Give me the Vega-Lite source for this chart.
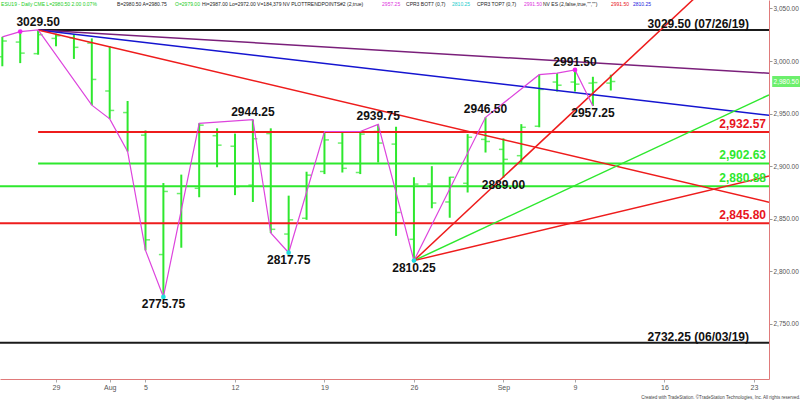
{
  "$schema": "https://vega.github.io/schema/vega-lite/v6.json",
  "width": 769,
  "height": 379,
  "autosize": {"type": "none"},
  "padding": {"left": 0, "top": 0, "right": 31, "bottom": 23},
  "background": "white",
  "config": {"view": {"stroke": null}, "font": "Liberation Sans"},
  "title": {"text": "Created with TradeStation. ©TradeStation Technologies, Inc. All rights reserved.", "orient": "bottom", "anchor": "end", "frame": "bounds", "fontSize": 4.5, "fontWeight": "normal", "color": "#444", "offset": 5},
  "datasets": {
    "bars": [
      {"date": "2019-07-24", "day": -3, "open": 3004, "high": 3023, "low": 2995, "close": 3019},
      {"date": "2019-07-25", "day": -2, "open": 3018, "high": 3028, "low": 2998, "close": 3007.5},
      {"date": "2019-07-26", "day": -1, "open": 3007, "high": 3029.5, "low": 3006, "close": 3025},
      {"date": "2019-07-29", "day": 0, "open": 3021.5, "high": 3026, "low": 3014, "close": 3024},
      {"date": "2019-07-30", "day": 1, "open": 3022, "high": 3025.5, "low": 3002, "close": 3013},
      {"date": "2019-07-31", "day": 2, "open": 3017, "high": 3021.5, "low": 2958, "close": 2982.5},
      {"date": "2019-08-01", "day": 3, "open": 2971.5, "high": 3014, "low": 2945, "close": 2953},
      {"date": "2019-08-02", "day": 4, "open": 2951, "high": 2962, "low": 2914, "close": 2932.5},
      {"date": "2019-08-05", "day": 5, "open": 2929.5, "high": 2934, "low": 2820, "close": 2830},
      {"date": "2019-08-06", "day": 6, "open": 2816, "high": 2884, "low": 2775.75, "close": 2876},
      {"date": "2019-08-07", "day": 7, "open": 2874, "high": 2892, "low": 2822.5, "close": 2881},
      {"date": "2019-08-08", "day": 8, "open": 2879, "high": 2940.75, "low": 2870.5, "close": 2939},
      {"date": "2019-08-09", "day": 9, "open": 2929, "high": 2936, "low": 2899, "close": 2920},
      {"date": "2019-08-12", "day": 10, "open": 2919, "high": 2931, "low": 2872.5, "close": 2880.5},
      {"date": "2019-08-13", "day": 11, "open": 2882, "high": 2944.25, "low": 2866, "close": 2926},
      {"date": "2019-08-14", "day": 12, "open": 2931, "high": 2936, "low": 2836.5, "close": 2840},
      {"date": "2019-08-15", "day": 13, "open": 2835.5, "high": 2872, "low": 2817.75, "close": 2849},
      {"date": "2019-08-16", "day": 14, "open": 2850.5, "high": 2894.75, "low": 2849, "close": 2891.5},
      {"date": "2019-08-19", "day": 15, "open": 2895, "high": 2933, "low": 2892.5, "close": 2925},
      {"date": "2019-08-20", "day": 16, "open": 2922, "high": 2933, "low": 2894, "close": 2898},
      {"date": "2019-08-21", "day": 17, "open": 2894, "high": 2933, "low": 2892.5, "close": 2930.5},
      {"date": "2019-08-22", "day": 18, "open": 2933, "high": 2939.75, "low": 2903.5, "close": 2922},
      {"date": "2019-08-23", "day": 19, "open": 2921, "high": 2937.5, "low": 2833.75, "close": 2856},
      {"date": "2019-08-26", "day": 20, "open": 2830.5, "high": 2889.5, "low": 2810.25, "close": 2883},
      {"date": "2019-08-27", "day": 21, "open": 2883, "high": 2900, "low": 2860, "close": 2865},
      {"date": "2019-08-28", "day": 22, "open": 2866, "high": 2890, "low": 2851, "close": 2889.5},
      {"date": "2019-08-29", "day": 23, "open": 2883.75, "high": 2930.5, "low": 2875, "close": 2927.5},
      {"date": "2019-08-30", "day": 24, "open": 2925.5, "high": 2946.5, "low": 2913, "close": 2923.5},
      {"date": "2019-09-03", "day": 25, "open": 2916, "high": 2926.5, "low": 2889, "close": 2906.5},
      {"date": "2019-09-04", "day": 26, "open": 2910, "high": 2940, "low": 2902, "close": 2937},
      {"date": "2019-09-05", "day": 27, "open": 2938, "high": 2987, "low": 2937, "close": 2973},
      {"date": "2019-09-06", "day": 28, "open": 2980, "high": 2988.5, "low": 2971, "close": 2977},
      {"date": "2019-09-09", "day": 29, "open": 2980, "high": 2991.5, "low": 2971, "close": 2978},
      {"date": "2019-09-10", "day": 30, "open": 2979, "high": 2985, "low": 2957.25, "close": 2979.5},
      {"date": "2019-09-11", "day": 31, "open": 2979, "high": 2987, "low": 2972, "close": 2980.5}
    ],
    "zigzag": [
      {"day": -3, "price": 3023}, {"day": -2, "price": 3028}, {"day": -1, "price": 3029.5},
      {"day": 2, "price": 2958}, {"day": 3, "price": 2945}, {"day": 4, "price": 2914},
      {"day": 5, "price": 2820}, {"day": 6, "price": 2775.75}, {"day": 8, "price": 2940.75},
      {"day": 11, "price": 2944.25}, {"day": 12, "price": 2836.5}, {"day": 13, "price": 2817.75},
      {"day": 15, "price": 2933}, {"day": 17, "price": 2933}, {"day": 18, "price": 2939.75},
      {"day": 20, "price": 2810.25}, {"day": 24, "price": 2946.5}, {"day": 27, "price": 2987},
      {"day": 28, "price": 2988.5}, {"day": 29, "price": 2991.5}, {"day": 30, "price": 2957.25}
    ],
    "markers": [
      {"day": -2, "price": 3028, "type": "top"},
      {"day": 29, "price": 2991.5, "type": "top"},
      {"day": 6, "price": 2775.75, "type": "bottom"},
      {"day": 13, "price": 2817.75, "type": "bottom"},
      {"day": 20, "price": 2810.25, "type": "bottom"}
    ],
    "pivots": [
      {"day": -1, "price": 3029.5, "label": "3029.50", "side": "high"},
      {"day": 6, "price": 2775.75, "label": "2775.75", "side": "low"},
      {"day": 11, "price": 2944.25, "label": "2944.25", "side": "high"},
      {"day": 13, "price": 2817.75, "label": "2817.75", "side": "low"},
      {"day": 18, "price": 2939.75, "label": "2939.75", "side": "high"},
      {"day": 20, "price": 2810.25, "label": "2810.25", "side": "low"},
      {"day": 24, "price": 2946.5, "label": "2946.50", "side": "high"},
      {"day": 25, "price": 2889, "label": "2889.00", "side": "low"},
      {"day": 29, "price": 2991.5, "label": "2991.50", "side": "high"},
      {"day": 30, "price": 2957.25, "label": "2957.25", "side": "low"}
    ],
    "levels": [
      {"kind": "swing", "price": 3029.5, "from": -1, "to": 39.84, "label": "3029.50 (07/26/19)"},
      {"kind": "swing", "price": 2732.25, "from": -4, "to": 39.84, "label": "2732.25 (06/03/19)"},
      {"kind": "fib", "price": 2932.57, "from": -1, "to": 39.84, "label": "2,932.57"},
      {"kind": "half", "price": 2902.63, "from": -1, "to": 39.84, "label": "2,902.63"},
      {"kind": "half", "price": 2880.88, "from": -4, "to": 39.84, "label": "2,880.88"},
      {"kind": "fib", "price": 2845.8, "from": -4, "to": 39.84, "label": "2,845.80"}
    ],
    "trends": [
      {"angle": "top 1x4", "from": -1, "start": 3029.5, "to": 39.84, "end": 2988.4},
      {"angle": "top 1x2", "from": -1, "start": 3029.5, "to": 39.84, "end": 2948.4},
      {"angle": "top 1x1", "from": -1, "start": 3029.5, "to": 39.84, "end": 2865.8},
      {"angle": "bottom 1x1", "from": 20, "start": 2810.25, "to": 39.84, "end": 3125.9},
      {"angle": "bottom 2x1", "from": 20, "start": 2810.25, "to": 39.84, "end": 2967.8},
      {"angle": "bottom 4x1", "from": 20, "start": 2810.25, "to": 39.84, "end": 2890.7}
    ],
    "last": [{"price": 2980.5}],
    "header": [
      {"part": "quote", "text": "ESU19 - Daily CME  L=2980.50  2.00  0.07%"},
      {"part": "bidask", "text": "B=2980.50 A=2980.75"},
      {"part": "open", "text": "O=2979.00"},
      {"part": "stats", "text": "Hi=2987.00 Lo=2972.00 V=184,379 NV PLOTTRENDPOINTS#2 (2,true)"},
      {"part": "ptp", "text": "2957.25"},
      {"part": "bot", "text": "CPR3 BOT7 (0,7)"},
      {"part": "botv", "text": "2810.25"},
      {"part": "top", "text": "CPR3 TOP7 (0,7)"},
      {"part": "topv", "text": "2991.50"},
      {"part": "nv", "text": "NV ES (2,false,true,\"\",\"\")"},
      {"part": "nvhi", "text": "2991.50"},
      {"part": "nvlo", "text": "2810.25"}
    ]
  },
  "encoding": {
    "x": {"type": "quantitative", "scale": {"domain": [-3.13, 39.84], "nice": false, "zero": false},
      "axis": {"values": [0, 3, 5, 10, 15, 20, 25, 29, 34, 39], "title": null, "grid": false,
        "labelExpr": "datum.value == 0 ? '29' : datum.value == 3 ? 'Aug' : datum.value == 5 ? '5' : datum.value == 10 ? '12' : datum.value == 15 ? '19' : datum.value == 20 ? '26' : datum.value == 25 ? 'Sep' : datum.value == 29 ? '9' : datum.value == 34 ? '16' : '23'",
        "labelFontSize": 7, "labelColor": "#555", "tickSize": 3, "tickColor": "#aaa", "domainColor": "#e07a7a", "labelPadding": 1}},
    "y": {"type": "quantitative", "scale": {"domain": [2697.7, 3058], "nice": false, "zero": false},
      "axis": {"orient": "right", "values": [2750, 2800, 2850, 2900, 2950, 3000, 3050], "format": ",.2f", "title": null, "grid": false,
        "labelFontSize": 6.5, "labelColor": "#555", "tickSize": 3, "tickColor": "#999", "domainColor": "#e07a7a", "labelPadding": 1}}
  },
  "resolve": {"scale": {"color": "independent"}},
  "layer": [
    {
      "data": {"name": "bars"},
      "mark": {"type": "rule", "color": "#2ee82e", "strokeWidth": 2},
      "encoding": {"x": {"field": "day"}, "y": {"field": "low"}, "y2": {"field": "high"}}
    },
    {
      "data": {"name": "bars"},
      "mark": {"type": "tick", "orient": "horizontal", "color": "#2ee82e", "size": 4, "thickness": 1.5, "xOffset": -2.5},
      "encoding": {"x": {"field": "day"}, "y": {"field": "open"}}
    },
    {
      "data": {"name": "bars"},
      "mark": {"type": "tick", "orient": "horizontal", "color": "#2ee82e", "size": 4, "thickness": 1.5, "xOffset": 2.5},
      "encoding": {"x": {"field": "day"}, "y": {"field": "close"}}
    },
    {
      "data": {"name": "levels"},
      "mark": {"type": "rule", "strokeWidth": 2, "clip": true},
      "encoding": {
        "x": {"field": "from"}, "x2": {"field": "to"}, "y": {"field": "price"},
        "color": {"field": "kind", "type": "nominal", "scale": {"domain": ["swing", "fib", "half"], "range": ["#1a1a1a", "#ee1c1c", "#2ee82e"]}, "legend": null}
      }
    },
    {
      "data": {"name": "trends"},
      "mark": {"type": "rule", "strokeWidth": 1.5, "clip": true},
      "encoding": {
        "x": {"field": "from"}, "x2": {"field": "to"}, "y": {"field": "start"}, "y2": {"field": "end"},
        "color": {"field": "angle", "type": "nominal", "scale": {"domain": ["top 1x4", "top 1x2", "top 1x1", "bottom 1x1", "bottom 2x1", "bottom 4x1"], "range": ["#7a1f7a", "#1515d0", "#ee1c1c", "#ee1c1c", "#2ee82e", "#ee1c1c"]}, "legend": null}
      }
    },
    {
      "data": {"name": "zigzag"},
      "mark": {"type": "line", "color": "#dd44dd", "strokeWidth": 1.2},
      "encoding": {"x": {"field": "day"}, "y": {"field": "price"}}
    },
    {
      "data": {"name": "markers"},
      "mark": {"type": "point", "filled": true, "size": 22, "opacity": 1},
      "encoding": {
        "x": {"field": "day"}, "y": {"field": "price"},
        "color": {"field": "type", "type": "nominal", "scale": {"domain": ["top", "bottom"], "range": ["#ee22ee", "#22dddd"]}, "legend": null}
      }
    },
    {
      "data": {"name": "pivots"},
      "transform": [{"filter": "datum.side == 'high'"}],
      "mark": {"type": "text", "fontSize": 12, "fontWeight": "bold", "color": "#111", "baseline": "middle", "dy": -8},
      "encoding": {"x": {"field": "day"}, "y": {"field": "price"}, "text": {"field": "label"}}
    },
    {
      "data": {"name": "pivots"},
      "transform": [{"filter": "datum.side == 'low'"}],
      "mark": {"type": "text", "fontSize": 12, "fontWeight": "bold", "color": "#111", "baseline": "middle", "dy": 7},
      "encoding": {"x": {"field": "day"}, "y": {"field": "price"}, "text": {"field": "label"}}
    },
    {
      "data": {"name": "levels"},
      "transform": [{"filter": "datum.kind == 'swing'"}],
      "mark": {"type": "text", "fontSize": 12, "fontWeight": "bold", "color": "#111", "align": "right", "baseline": "middle", "dx": -20, "dy": -6},
      "encoding": {"x": {"field": "to"}, "y": {"field": "price"}, "text": {"field": "label"}}
    },
    {
      "data": {"name": "levels"},
      "transform": [{"filter": "datum.kind != 'swing'"}],
      "mark": {"type": "text", "fontSize": 12, "fontWeight": "bold", "align": "right", "baseline": "middle", "dx": -3, "dy": -8},
      "encoding": {
        "x": {"field": "to"}, "y": {"field": "price"}, "text": {"field": "label"},
        "color": {"field": "kind", "type": "nominal", "scale": {"domain": ["fib", "half"], "range": ["#e8141c", "#2ee82e"]}, "legend": null}
      }
    },
    {
      "data": {"name": "last"},
      "mark": {"type": "tick", "orient": "horizontal", "size": 28, "thickness": 11, "color": "#2ee82e"},
      "encoding": {"x": {"datum": 40.8}, "y": {"field": "price"}}
    },
    {
      "data": {"name": "last"},
      "mark": {"type": "text", "fontSize": 6.5, "color": "white", "baseline": "middle"},
      "encoding": {"x": {"datum": 40.8}, "y": {"field": "price"}, "text": {"field": "price", "format": ",.2f"}}
    },
    {"data": {"name": "header"}, "transform": [{"filter": "datum.part == 'quote'"}], "mark": {"type": "text", "align": "left", "baseline": "middle", "fontSize": 5, "color": "#22cc22"}, "encoding": {"x": {"datum": -3.07}, "y": {"datum": 3054}, "text": {"field": "text"}}},
    {"data": {"name": "header"}, "transform": [{"filter": "datum.part == 'bidask'"}], "mark": {"type": "text", "align": "left", "baseline": "middle", "fontSize": 5, "color": "#222"}, "encoding": {"x": {"datum": 3.41}, "y": {"datum": 3054}, "text": {"field": "text"}}},
    {"data": {"name": "header"}, "transform": [{"filter": "datum.part == 'open'"}], "mark": {"type": "text", "align": "left", "baseline": "middle", "fontSize": 5, "color": "#22cc22"}, "encoding": {"x": {"datum": 6.65}, "y": {"datum": 3054}, "text": {"field": "text"}}},
    {"data": {"name": "header"}, "transform": [{"filter": "datum.part == 'stats'"}], "mark": {"type": "text", "align": "left", "baseline": "middle", "fontSize": 5, "color": "#222"}, "encoding": {"x": {"datum": 8.16}, "y": {"datum": 3054}, "text": {"field": "text"}}},
    {"data": {"name": "header"}, "transform": [{"filter": "datum.part == 'ptp'"}], "mark": {"type": "text", "align": "left", "baseline": "middle", "fontSize": 5, "color": "#dd33dd"}, "encoding": {"x": {"datum": 18.22}, "y": {"datum": 3054}, "text": {"field": "text"}}},
    {"data": {"name": "header"}, "transform": [{"filter": "datum.part == 'bot'"}], "mark": {"type": "text", "align": "left", "baseline": "middle", "fontSize": 5, "color": "#222"}, "encoding": {"x": {"datum": 19.56}, "y": {"datum": 3054}, "text": {"field": "text"}}},
    {"data": {"name": "header"}, "transform": [{"filter": "datum.part == 'botv'"}], "mark": {"type": "text", "align": "left", "baseline": "middle", "fontSize": 5, "color": "#22cccc"}, "encoding": {"x": {"datum": 22.13}, "y": {"datum": 3054}, "text": {"field": "text"}}},
    {"data": {"name": "header"}, "transform": [{"filter": "datum.part == 'top'"}], "mark": {"type": "text", "align": "left", "baseline": "middle", "fontSize": 5, "color": "#222"}, "encoding": {"x": {"datum": 23.52}, "y": {"datum": 3054}, "text": {"field": "text"}}},
    {"data": {"name": "header"}, "transform": [{"filter": "datum.part == 'topv'"}], "mark": {"type": "text", "align": "left", "baseline": "middle", "fontSize": 5, "color": "#dd33dd"}, "encoding": {"x": {"datum": 26.15}, "y": {"datum": 3054}, "text": {"field": "text"}}},
    {"data": {"name": "header"}, "transform": [{"filter": "datum.part == 'nv'"}], "mark": {"type": "text", "align": "left", "baseline": "middle", "fontSize": 5, "color": "#222"}, "encoding": {"x": {"datum": 27.21}, "y": {"datum": 3054}, "text": {"field": "text"}}},
    {"data": {"name": "header"}, "transform": [{"filter": "datum.part == 'nvhi'"}], "mark": {"type": "text", "align": "left", "baseline": "middle", "fontSize": 5, "color": "#e8141c"}, "encoding": {"x": {"datum": 31.01}, "y": {"datum": 3054}, "text": {"field": "text"}}},
    {"data": {"name": "header"}, "transform": [{"filter": "datum.part == 'nvlo'"}], "mark": {"type": "text", "align": "left", "baseline": "middle", "fontSize": 5, "color": "#2222dd"}, "encoding": {"x": {"datum": 32.24}, "y": {"datum": 3054}, "text": {"field": "text"}}}
  ]
}
